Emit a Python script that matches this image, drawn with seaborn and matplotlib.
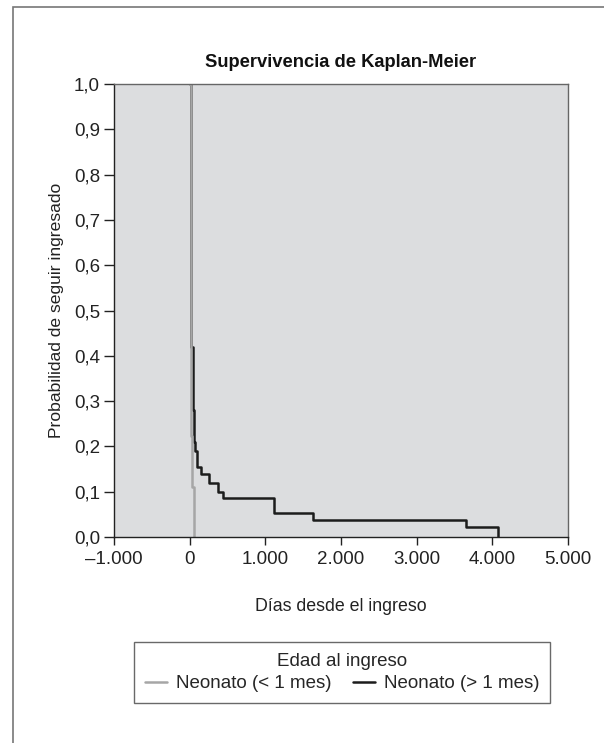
import matplotlib
matplotlib.use("Agg")
import matplotlib.pyplot as plt
import matplotlib.ticker as mticker
from matplotlib.patches import Rectangle
from matplotlib.lines import Line2D
import seaborn as sns
import pandas as pd

# Data
group_names = ["Neonato (< 1 mes)", "Neonato (> 1 mes)"]
t_lt1 = [0, 17, 36, 53]
s_lt1 = [1.0, 0.222, 0.111, 0.0]
t_gt1 = [0, 17, 49, 57, 75, 93, 146, 255, 380, 446, 1111, 1631, 3651, 4078]
s_gt1 = [1.0, 0.42, 0.28, 0.21, 0.19, 0.155, 0.14, 0.12, 0.10, 0.085, 0.053, 0.037, 0.021, 0.0]
x_ticks = [-1000, 0, 1000, 2000, 3000, 4000, 5000]
y_ticks = [0.0, 0.1, 0.2, 0.3, 0.4, 0.5, 0.6, 0.7, 0.8, 0.9, 1.0]

df = pd.concat([
    pd.DataFrame({"t": t_gt1, "s": s_gt1, "grupo": group_names[1]}),
    pd.DataFrame({"t": t_lt1, "s": s_lt1, "grupo": group_names[0]}),
], ignore_index=True)

sns.set_theme(style="white")
plt.rcParams["font.family"] = ["Liberation Sans", "DejaVu Sans"]

fig = plt.figure(figsize=(6.04, 7.43), dpi=100)
fig.patch.set_facecolor("white")
ax = fig.add_axes([114 / 604, 1 - 537 / 743, 454 / 604, 453 / 743])
ax.set_facecolor("#dcdddf")

palette = {group_names[0]: "#a6a6a6", group_names[1]: "#1c1c1c"}
sns.lineplot(data=df, x="t", y="s", hue="grupo", palette=palette,
             drawstyle="steps-post", estimator=None, sort=False,
             linewidth=1.8, ax=ax, legend=False)

ax.set_xlim(-1000, 5000)
ax.set_ylim(0, 1.0)
ax.set_xticks(x_ticks)
ax.set_yticks(y_ticks)
ax.xaxis.set_major_formatter(mticker.FuncFormatter(
    lambda v, p: ("\u2013" if v < 0 else "") + f"{abs(int(v)):,}".replace(",", ".")))
ax.yaxis.set_major_formatter(mticker.FuncFormatter(lambda v, p: f"{v:.1f}".replace(".", ",")))
ax.tick_params(axis="both", direction="out", length=6, width=1, color="#222222",
               labelsize=13.5, labelcolor="#222222")
ax.tick_params(axis="x", pad=4)
ax.tick_params(axis="y", pad=3, length=7)
ax.xaxis.set_ticks_position("bottom")
ax.yaxis.set_ticks_position("left")
for side, sp in ax.spines.items():
    sp.set_visible(True)
    sp.set_linewidth(1.0)
    sp.set_color("#222222" if side in ("left", "bottom") else "#666666")

ax.set_xlabel("Días desde el ingreso", fontsize=12.8, color="#222222", labelpad=22)
ax.set_ylabel("Probabilidad de seguir ingresado", fontsize=12.6, color="#222222", labelpad=7)
ax.set_title("Supervivencia de Kaplan-Meier", fontsize=13.2, fontweight="bold",
             color="#111111", pad=12)

handles = [Line2D([], [], color=palette[g], linewidth=1.8) for g in group_names]
leg = fig.legend(handles, group_names, title="Edad al ingreso", ncol=2,
                 loc="center", bbox_to_anchor=(342 / 604, 1 - 672.5 / 743),
                 frameon=True, fancybox=False, edgecolor="#444444",
                 fontsize=13.5, title_fontsize=13.5, handlelength=1.2,
                 handletextpad=0.45, columnspacing=1.15, borderpad=0.55,
                 labelspacing=0.3)
leg.get_frame().set_linewidth(1.0)

fig.patches.append(Rectangle((13 / 604, -0.1), 1.2, 1 - 7 / 743 + 0.1,
                             transform=fig.transFigure, fill=False,
                             edgecolor="#777777", linewidth=1.2, zorder=0))

fig.savefig("out.png", dpi=100, facecolor="white")
